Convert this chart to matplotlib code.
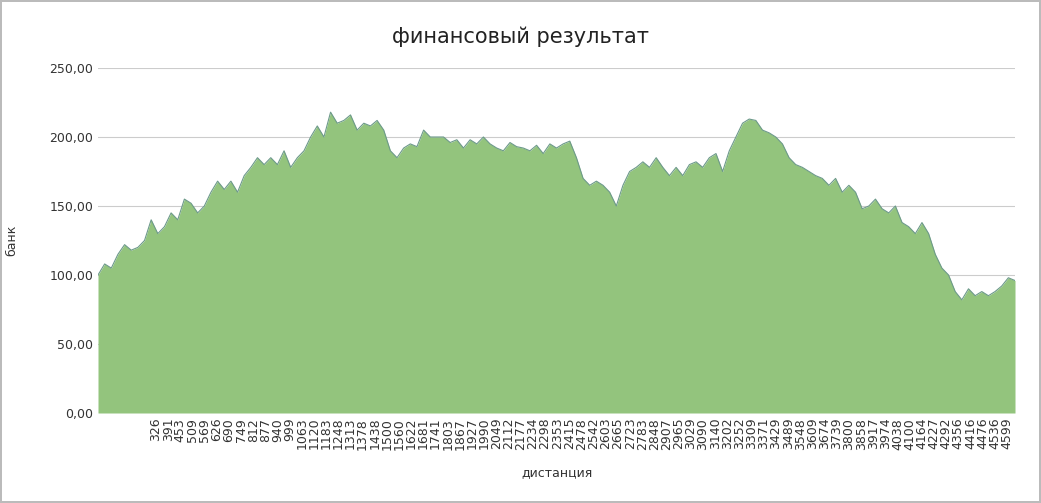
import matplotlib
matplotlib.use("Agg")
import matplotlib.pyplot as plt
import numpy as np

bank = [100,108,105,115,122,118,120,125,140,130,135,145,140,155,152,145,150,160,168,162,
        168,160,172,178,185,180,185,180,190,178,185,190,200,208,200,218,210,212,216,205,
        210,208,212,205,190,185,192,195,193,205,200,200,200,196,198,192,198,195,200,195,
        192,190,196,193,192,190,194,188,195,192,195,197,185,170,165,168,165,160,150,165,
        175,178,182,178,185,178,172,178,172,180,182,178,185,188,175,190,200,210,213,212,
        205,203,200,195,185,180,178,175,172,170,165,170,160,165,160,148,150,155,148,145,
        150,138,135,130,138,130,115,105,100,88,82,90,85,88,85,88,92,98,96]
tick_labels = ["326","391","453","509","569","626","690","749","812","877","940","999","1063",
    "1120","1183","1248","1313","1378","1438","1500","1560","1622","1681","1741","1803","1867",
    "1927","1990","2049","2112","2177","2234","2298","2353","2415","2478","2542","2603","2665",
    "2723","2783","2848","2907","2965","3029","3090","3140","3202","3252","3309","3371","3429",
    "3489","3548","3609","3674","3739","3800","3858","3917","3974","4038","4100","4164","4227",
    "4292","4356","4416","4476","4536","4599"]

n = len(bank)
x = np.arange(n)
fig = plt.figure(figsize=(10.41, 5.03), dpi=100)
fig.patch.set_edgecolor("#bbbbbb"); fig.patch.set_linewidth(1.5)
ax = fig.add_axes([98/1041, 1-413/503, 917/1041, 345/503])
ax.fill_between(x, bank, color="#93c47d", lw=0)
ax.plot(x, bank, color="#6d9a8a", lw=0.8)
ax.set_xlim(0, n-1)
ax.set_ylim(0, 250)
ax.set_yticks(np.arange(0, 251, 50))
ax.set_yticklabels([f"{v:.2f}".replace(".", ",") for v in range(0, 251, 50)], fontsize=9, color="#333333")
frac = np.linspace((156-98)/917, (1007-98)/917, len(tick_labels))
ax.set_xticks(frac*(n-1))
ax.set_xticklabels(tick_labels, rotation=90, fontsize=9, color="#333333")
ax.tick_params(length=0)
ax.grid(axis="y", color="#cccccc", lw=0.8)
ax.set_axisbelow(True)
for s in ax.spines.values(): s.set_visible(False)
ax.set_xlabel("дистанция", fontsize=9, color="#333333", labelpad=12)
ax.set_ylabel("банк", fontsize=9, color="#333333", labelpad=22)
fig.text(0.5, 1-37/503, "финансовый результат", ha="center", va="center", fontsize=15, color="#222222")
fig.savefig("out.png", dpi=100, edgecolor=fig.get_edgecolor())
